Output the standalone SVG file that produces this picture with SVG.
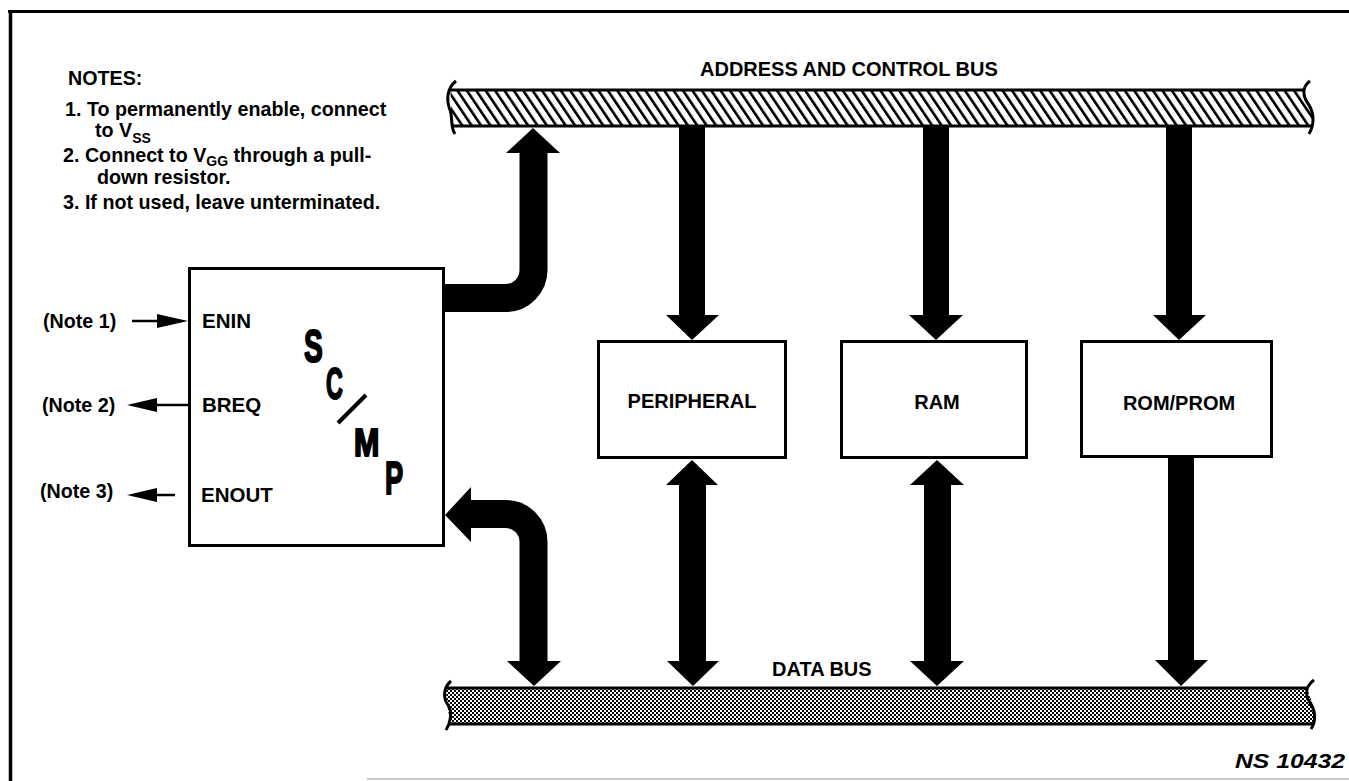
<svg xmlns="http://www.w3.org/2000/svg" width="1349" height="781" viewBox="0 0 1349 781">
<style>
.t{font-family:"Liberation Sans",Arial,sans-serif;font-weight:bold;font-size:20px;fill:#000}
.n{font-size:19.7px}
.sub{font-size:14px}
.box{fill:#fff;stroke:#000;stroke-width:3}
.blk{fill:#000}
.thin{stroke:#000;stroke-width:2.5;fill:none}
.edge{stroke:#000;stroke-width:3;fill:none}
.big{font-family:"Liberation Sans",Arial,sans-serif;font-weight:bold;fill:#000;stroke:#000;stroke-width:2;stroke-linejoin:round}
</style>
<defs>
<pattern id="hatch" patternUnits="userSpaceOnUse" width="9.4" height="40" patternTransform="skewX(34)">
<rect x="0" y="0" width="9.4" height="40" fill="#fff"/>
<rect x="0" y="0" width="3.2" height="40" fill="#000"/>
</pattern>
<pattern id="dots" patternUnits="userSpaceOnUse" width="4" height="4">
<rect x="0" y="0" width="4" height="4" fill="#fff"/>
<rect x="0" y="0" width="2" height="2" fill="#000"/>
<rect x="2" y="2" width="2" height="2" fill="#000"/>
</pattern>
</defs>
<rect x="0" y="0" width="1349" height="781" fill="#fff"/>

<g id="frame">
<line x1="8" y1="11.5" x2="1349" y2="11.5" stroke="#000" stroke-width="3"/>
<line x1="10.5" y1="10" x2="10.5" y2="781" stroke="#000" stroke-width="3.5"/>
<line x1="367" y1="779" x2="1349" y2="779" stroke="#c8c8c8" stroke-width="2"/>
</g>

<g id="notes">
<text class="t n" x="68" y="85">NOTES:</text>
<text class="t n" x="65" y="116">1. To permanently enable, connect</text>
<text class="t n" x="95" y="137">to V<tspan class="sub" dy="6">SS</tspan></text>
<text class="t n" x="63" y="162">2. Connect to V<tspan class="sub" dy="4">GG</tspan><tspan dy="-4"> through a pull-</tspan></text>
<text class="t n" x="97" y="184">down resistor.</text>
<text class="t n" x="63" y="209">3. If not used, leave unterminated.</text>
</g>

<g id="address-bus">
<path d="M450,89 H1303 C1306,100 1315,112 1312,127 H453 C450,115 452,103 450,89 Z" fill="url(#hatch)"/>
<line class="edge" x1="449" y1="90" x2="1304" y2="90"/>
<line class="edge" x1="452" y1="126" x2="1312" y2="126"/>
<path class="edge" d="M456,81 C447,88 446,100 450,110 C453,118 450,127 455,134"/>
<path class="edge" d="M1310,81 C1303,86 1302,94 1307,102 C1313,110 1316,122 1309,134"/>
<text class="t" x="700" y="76">ADDRESS AND CONTROL BUS</text>
</g>

<g id="data-bus">
<path d="M447,687 H1307 C1310,700 1318,712 1313,725 H449 C451,715 444,700 447,687 Z" fill="url(#dots)"/>
<line class="edge" x1="447" y1="688" x2="1308" y2="688"/>
<line class="edge" x1="449" y1="724" x2="1313" y2="724"/>
<path class="edge" d="M451,681 C443,688 443,698 448,705 C453,712 450,724 446,730"/>
<path class="edge" d="M1314,680 C1306,686 1305,694 1309,701 C1315,709 1317,720 1311,729"/>
<text class="t" x="772" y="676">DATA BUS</text>
</g>

<g id="scmp">
<rect class="box" x="189.5" y="268.5" width="254" height="277"/>
<text class="t" x="202" y="328" style="font-size:20.5px">ENIN</text>
<text class="t" x="202" y="412" style="font-size:20.5px">BREQ</text>
<text class="t" x="201" y="502" style="font-size:20.5px">ENOUT</text>
<text class="big" transform="translate(304,362) scale(0.6,1)" font-size="47">S</text>
<text class="big" transform="translate(326,399) scale(0.53,1)" font-size="44">C</text>
<line x1="338" y1="423" x2="366" y2="395" stroke="#000" stroke-width="4"/>
<text class="big" transform="translate(354,456) scale(0.78,1)" font-size="39">M</text>
<text class="big" transform="translate(385,494) scale(0.58,1)" font-size="47">P</text>
</g>

<g id="peripheral">
<rect class="box" x="598.5" y="341.5" width="187" height="116"/>
<text class="t" x="692" y="408" text-anchor="middle">PERIPHERAL</text>
</g>
<g id="ram">
<rect class="box" x="841.5" y="341.5" width="185" height="116"/>
<text class="t" x="937" y="409" text-anchor="middle">RAM</text>
</g>
<g id="rom">
<rect class="box" x="1081.5" y="341.5" width="190" height="115"/>
<text class="t" x="1179" y="410" text-anchor="middle">ROM/PROM</text>
</g>

<g id="side-labels">
<text class="t n" x="43" y="328">(Note 1)</text>
<text class="t n" x="42" y="412">(Note 2)</text>
<text class="t n" x="40" y="498">(Note 3)</text>
</g>

<g id="connectors">
<line class="thin" x1="132" y1="321" x2="160" y2="321"/>
<polygon class="blk" points="157,314 188,321 157,328"/>
<line class="thin" x1="154" y1="405" x2="188" y2="405"/>
<polygon class="blk" points="127,405 157,398 157,412"/>
<line class="thin" x1="154" y1="495" x2="175" y2="495"/>
<polygon class="blk" points="127,495 157,488 157,502"/>

<path d="M444,298 H505.5 A28,28 0 0 0 533.5,270 V150" fill="none" stroke="#000" stroke-width="28"/>
<polygon class="blk" points="506,153 560,153 533,128"/>
<path d="M468,514 H505.5 A28,28 0 0 1 533.5,542 V663" fill="none" stroke="#000" stroke-width="28"/>
<polygon class="blk" points="445,515 471,487 471,542"/>
<polygon class="blk" points="507,661 561,661 534,686"/>

<rect class="blk" x="679" y="126" width="26" height="191"/>
<polygon class="blk" points="666,315 719,315 692,340"/>
<rect class="blk" x="923" y="126" width="26" height="191"/>
<polygon class="blk" points="909,315 963,315 936,340"/>
<rect class="blk" x="1166" y="126" width="26" height="191"/>
<polygon class="blk" points="1153,315 1206,315 1179,340"/>

<polygon class="blk" points="692,460 666,485 718,485"/>
<rect class="blk" x="679" y="483" width="27" height="180"/>
<polygon class="blk" points="667,661 719,661 693,686"/>
<polygon class="blk" points="937,460 910,485 964,485"/>
<rect class="blk" x="924" y="483" width="27" height="180"/>
<polygon class="blk" points="910,661 964,661 937,686"/>
<rect class="blk" x="1168" y="457" width="26" height="205"/>
<polygon class="blk" points="1155,660 1208,660 1181,686"/>
</g>

<g id="figure-id">
<text class="t" x="1235" y="768" font-style="italic" textLength="110" lengthAdjust="spacingAndGlyphs">NS 10432</text>
</g>
</svg>
